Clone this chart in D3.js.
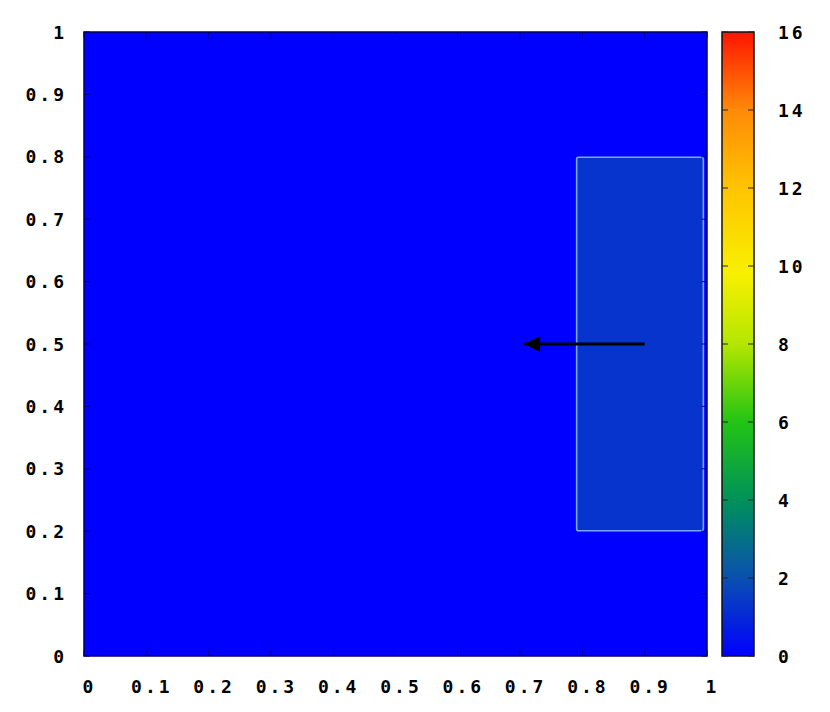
<!DOCTYPE html>
<html><head><meta charset="utf-8">
<script src="https://cdn.jsdelivr.net/npm/d3@7"></script>
<style>body{margin:0;background:#fff}svg{display:block}text{font-family:"DejaVu Sans Mono",monospace;font-weight:bold;font-size:18px;fill:#000}</style>
</head><body><svg id="c" width="830" height="712"></svg>
<script>
// ---- data ----
const xTicks = [0,0.1,0.2,0.3,0.4,0.5,0.6,0.7,0.8,0.9,1];
const yTicks = [0,0.1,0.2,0.3,0.4,0.5,0.6,0.7,0.8,0.9,1];
const cbTicks = [0,2,4,6,8,10,12,14,16];
const paletteValues = [0, 2, 4, 6, 8, 9.8, 12, 14, 16];
const paletteColors = ["#0000ff","#0a50b0","#00915a","#22c414","#b4e600","#f8f000","#ffc400","#ff8a08","#ff1400"];
// field regions: [x0,x1,y0,y1,value]
const fieldX0 = [0, 0.79];
const fieldX1 = [1, 0.995];
const fieldY0 = [0, 0.2];
const fieldY1 = [1, 0.8];
const fieldV  = [0, 1.3];
// arrow from -> to
const arrowFrom = [0.9, 0.5];
const arrowTo = [0.7, 0.5];

// ---- drawing ----
const svg = d3.select("#c");
const L=84, R=707, T=32, B=656;
const x = d3.scaleLinear().domain([0,1]).range([L,R]);
const y = d3.scaleLinear().domain([0,1]).range([B,T]);
const color = d3.scaleLinear().domain(paletteValues).range(paletteColors).clamp(true);

const g = svg.append("g");
fieldV.forEach((v,i)=>{
  g.append("rect").attr("x",x(fieldX0[i])).attr("y",y(fieldY1[i]))
   .attr("width",x(fieldX1[i])-x(fieldX0[i])).attr("height",y(fieldY0[i])-y(fieldY1[i]))
   .attr("fill",color(v));
});
// region outline
g.append("rect").attr("x",x(fieldX0[1])+0.5).attr("y",y(fieldY1[1])+0.5)
 .attr("width",x(fieldX1[1])-x(fieldX0[1])-1).attr("height",y(fieldY0[1])-y(fieldY1[1])-1)
 .attr("rx",2).attr("fill","none").attr("stroke","#7aa6ff").attr("stroke-width",1.6);

// ticks inside plot
const tg = svg.append("g").attr("stroke","#000090").attr("stroke-width",1);
xTicks.forEach(t=>{
  tg.append("line").attr("x1",x(t)).attr("x2",x(t)).attr("y1",B).attr("y2",B-6);
  tg.append("line").attr("x1",x(t)).attr("x2",x(t)).attr("y1",T).attr("y2",T+6);
});
yTicks.forEach(t=>{
  tg.append("line").attr("x1",L).attr("x2",L+6).attr("y1",y(t)).attr("y2",y(t));
  tg.append("line").attr("x1",R).attr("x2",R-6).attr("y1",y(t)).attr("y2",y(t));
});
svg.append("rect").attr("x",L).attr("y",T).attr("width",R-L).attr("height",B-T)
  .attr("fill","none").attr("stroke","#000060").attr("stroke-width",1.5);

// axes labels
const xAxis = d3.axisBottom(x).tickValues(xTicks).tickSize(0).tickPadding(0).tickFormat(d3.format("~g"));
const xa = svg.append("g").attr("transform",`translate(5,${B+32})`).call(xAxis);
xa.select(".domain").remove();
xa.selectAll("text").attr("dy",0).attr("dominant-baseline","middle").style("letter-spacing","3px").attr("text-anchor","middle").attr("font-size",18).attr("font-family",null);
const yAxis = d3.axisLeft(y).tickValues(yTicks).tickSize(0).tickPadding(0).tickFormat(d3.format("~g"));
const ya = svg.append("g").attr("transform",`translate(67,1)`).call(yAxis);
ya.select(".domain").remove();
ya.selectAll("text").attr("dy",0).attr("dominant-baseline","middle").style("letter-spacing","3px").attr("font-size",18).attr("font-family",null);

// arrow
const defs = svg.append("defs");
defs.append("marker").attr("id","ah").attr("viewBox","0 0 10 10").attr("refX",10).attr("refY",5)
  .attr("markerUnits","userSpaceOnUse").attr("markerWidth",20).attr("markerHeight",16).attr("orient","auto")
  .append("path").attr("d","M0,0L10,5L0,10Z").attr("fill","#000");
svg.append("line").attr("x1",x(arrowFrom[0])).attr("y1",y(arrowFrom[1]))
  .attr("x2",x(arrowTo[0])+4).attr("y2",y(arrowTo[1]))
  .attr("stroke","#000").attr("stroke-width",3).attr("marker-end","url(#ah)");

// colorbar
const cL=722, cR=754;
const cy = d3.scaleLinear().domain([0,16]).range([B,T]);
const grad = defs.append("linearGradient").attr("id","cb").attr("x1",0).attr("y1",1).attr("x2",0).attr("y2",0);
paletteValues.forEach((v,i)=>grad.append("stop").attr("offset",v/16).attr("stop-color",paletteColors[i]));
svg.append("rect").attr("x",cL).attr("y",T).attr("width",cR-cL).attr("height",B-T)
  .attr("fill","url(#cb)").attr("stroke","#111").attr("stroke-width",1.5);
const cg = svg.append("g").attr("stroke","#222").attr("stroke-width",1);
cbTicks.forEach(t=>{
  cg.append("line").attr("x1",cL).attr("x2",cL+6).attr("y1",cy(t)).attr("y2",cy(t));
  cg.append("line").attr("x1",cR).attr("x2",cR-6).attr("y1",cy(t)).attr("y2",cy(t));
});
const cAxis = d3.axisRight(cy).tickValues(cbTicks).tickSize(0).tickPadding(0);
const ca = svg.append("g").attr("transform",`translate(778,1)`).call(cAxis);
ca.select(".domain").remove();
ca.selectAll("text").attr("dy",0).attr("dominant-baseline","middle").style("letter-spacing","3px").attr("font-size",18).attr("font-family",null);
</script></body></html>
